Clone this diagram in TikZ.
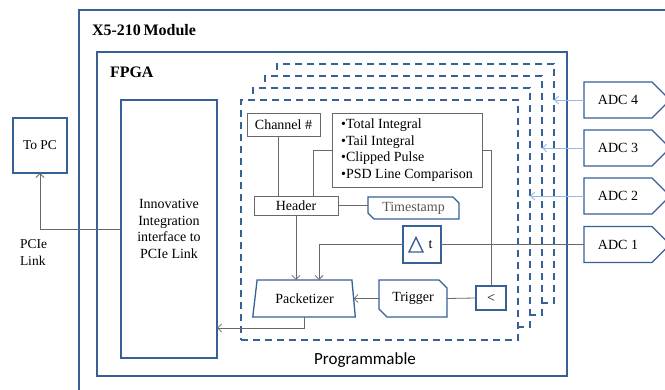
\documentclass[tikz,border=0pt]{standalone}
\usepackage{fontspec}
\setmainfont{Liberation Serif}
\newfontfamily\calib{Carlito}
\usetikzlibrary{arrows.meta,shapes.geometric}
\definecolor{bblue}{RGB}{55,96,150}
\definecolor{lblue}{RGB}{150,185,230}
\definecolor{cgray}{RGB}{105,105,105}
\definecolor{tgray}{RGB}{85,85,85}
\begin{document}
\begin{tikzpicture}[x=1pt,y=-1pt,
  font=\fontsize{14}{16.5}\selectfont,
  bigbox/.style={draw=bblue,line width=1.8pt,inner sep=0pt,outer sep=0pt},
  bluebox/.style={draw=bblue,line width=1.3pt,fill=white,inner sep=0pt,outer sep=0pt},
  graybox/.style={draw=cgray,line width=0.9pt,fill=white,inner sep=0pt,outer sep=0pt},
  plain/.style={inner sep=0pt,outer sep=0pt},
  dashbox/.style={draw=bblue,line width=1.6pt,dash pattern=on 7pt off 5pt,fill=white,inner sep=0pt,outer sep=0pt},
  conn/.style={draw=cgray,line width=0.8pt},
  arr/.style={conn,-{Straight Barb[length=4pt,width=8pt]}},
  larr/.style={draw=lblue,line width=0.9pt,-{Straight Barb[length=4pt,width=8pt]}}
]
\useasboundingbox (0,0) rectangle (665,390);
\newcommand\adcbox[3]{%
  \node[plain,minimum width=68pt,minimum height=36pt] (#1) at (618,#2) {#3};
  \draw[bblue,line width=1.3pt] (#1.north west) -- (#1.north east) -- ([xshift=18pt]#1.east) -- (#1.south east) -- (#1.south west) -- cycle;
}
% module frame
\draw[bblue,line width=1.8pt] (79,420) -- (79,10) -- (700,10);
\node[plain,anchor=west,font=\fontsize{16}{18}\selectfont\bfseries] (modlbl) at (92,30) {X5-210\,Module};
% FPGA
\node[bigbox,minimum width=470pt,minimum height=324pt] (fpga) at (332,214) {};
\node[plain,anchor=west,font=\fontsize{16}{18}\selectfont\bfseries] (fpgalbl) at (110,72) {FPGA};
% To PC
\node[bluebox,minimum width=54pt,minimum height=55pt,font=\fontsize{13.5}{16}\selectfont] (topc) at (40,145.5) {To PC};
\node[plain,anchor=north west,align=left,font=\fontsize{13.5}{17}\selectfont] (pcie) at (20,240) {PCIe\\Link};
% Innovative box
\node[bluebox,minimum width=96pt,minimum height=258pt,align=center] (innov) at (169,229) {Innovative\\Integration\\interface to\\PCIe Link};
% dashed channel stacks
\node[dashbox,minimum width=277pt,minimum height=239pt] (r4) at (415.5,183.5) {};
\node[dashbox,minimum width=277pt,minimum height=239pt] (r3) at (403.5,195.5) {};
\node[dashbox,minimum width=277pt,minimum height=239pt] (r2) at (391.5,207.5) {};
\node[dashbox,minimum width=277pt,minimum height=240pt] (r1) at (379.5,220) {};
\node[plain,font=\calib\fontsize{17}{20}\selectfont] (prog) at (365,360) {Programmable};
% inner blocks
\node[graybox,minimum width=73pt,minimum height=23pt] (ch) at (283.5,124.5) {Channel \#};
\node[graybox,minimum width=150pt,minimum height=74pt,align=left] (stats) at (407,150) {\textbullet Total Integral\\\textbullet Tail Integral\\\textbullet Clipped Pulse\\\textbullet PSD Line Comparison};
\node[graybox,minimum width=84pt,minimum height=19pt] (hdr) at (296,205.5) {Header};
\node[plain,minimum width=91pt,minimum height=22pt,text=tgray] (ts) at (413.5,208) {Timestamp};
\draw[bblue,line width=1.3pt] (ts.north west) -- ([xshift=-6pt]ts.north east) -- ([yshift=-6pt]ts.north east) -- (ts.south east) -- ([xshift=6pt]ts.south west) -- ([yshift=6pt]ts.south west) -- cycle;
\node[bluebox,minimum width=38pt,minimum height=37pt] (dt) at (422,244.5) {\hspace*{17pt}t};
\draw[bblue,line width=1.4pt,line join=miter] (409,252) -- (423,252) -- (416,237.5) -- cycle;
\node[bluebox,minimum width=30pt,minimum height=24pt] (lt) at (491,298) {<};
\node[plain,minimum width=68pt,minimum height=37pt] (trig) at (413,298.5) {Trigger};
\draw[bblue,line width=1.3pt] (trig.north west) -- ([xshift=-8pt]trig.north east) -- ([yshift=-8pt]trig.north east) -- (trig.south east) -- ([xshift=8pt]trig.south west) -- ([yshift=8pt]trig.south west) -- cycle;
\node[bluebox,trapezium,trapezium stretches=true,trapezium left angle=75,trapezium right angle=78,minimum width=103pt,minimum height=37pt] (pk) at (304.5,298.5) {Packetizer};
% ADCs
\adcbox{adc4}{100}{ADC 4}
\adcbox{adc3}{148}{ADC 3}
\adcbox{adc2}{196}{ADC 2}
\adcbox{adc1}{244.5}{ADC 1}
% connectors
\coordinate (outy) at (0,328);
\draw[arr] (innov.west) -| (topc.south);
\draw[conn] ([xshift=-5.5pt]ch.south) -- ([xshift=-5.5pt]ch.south |- hdr.north);
\draw[conn] (stats.west) -| ([xshift=17pt]hdr.north);
\draw[conn] (stats.east) -| (lt.north);
\draw[conn] (hdr.east) -- (hdr.east -| ts.west);
\draw[conn] (adc1.west) -- (dt.east);
\draw[arr] (dt.west) -| ([xshift=14.5pt]pk.north);
\draw[arr] (hdr.south) -- (hdr.south |- pk.north);
\draw[conn] (lt.west) -- (trig.east);
\draw[arr] (trig.west) -- (pk.east);
\draw[arr] (pk.south) |- (innov.east |- outy);
\draw[larr] (adc4.west) -- (adc4.west -| r4.east);
\draw[larr] (adc3.west) -- (adc3.west -| r3.east);
\draw[larr] (adc2.west) -- (adc2.west -| r2.east);
\end{tikzpicture}
\end{document}
